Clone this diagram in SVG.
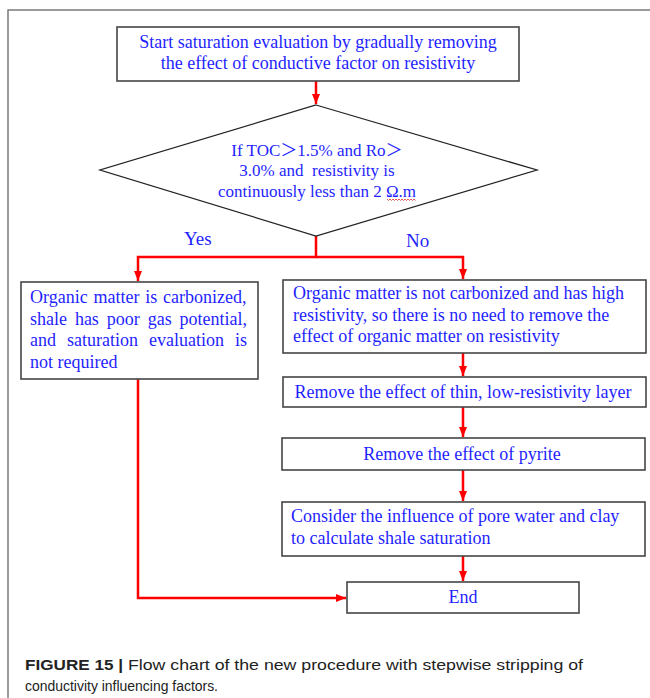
<svg xmlns="http://www.w3.org/2000/svg" width="650" height="698" viewBox="0 0 650 698">
<style>
.frame{fill:none;stroke:#7a7a7a;stroke-width:1.5}
.box{fill:#fff;stroke:#454545;stroke-width:1.6}
.t{font-family:"Liberation Serif","Times New Roman",serif;font-size:18px;fill:#1f1fff}
.td{font-family:"Liberation Serif","Noto Sans CJK SC",serif;font-size:17px;fill:#1f1fff}
.c{text-anchor:middle}
.lbl{font-family:"Liberation Serif","Times New Roman",serif;font-size:19px;fill:#1f1fff}
.conn{fill:none;stroke:#ff0000;stroke-width:2.5}
.cap{font-family:"Liberation Sans",Arial,sans-serif;font-size:14px;fill:#222}
</style>
<defs>
<marker id="ah" markerUnits="userSpaceOnUse" markerWidth="10" markerHeight="10" viewBox="0 0 10 10" refX="10" refY="5" orient="auto">
<path d="M0,1 L10,5 L0,9 Z" fill="#ff0000"/>
</marker>
</defs>
<rect width="650" height="698" fill="#fff"/>
<path class="frame" d="M8,698 L8,10 L650,10"/>

<g id="connectors">
<path class="conn" d="M316,81 L316,104" marker-end="url(#ah)"/>
<path class="conn" d="M316,236 L316,257 L138,257 L138,281" marker-end="url(#ah)"/>
<path class="conn" d="M316,257 L463,257 L463,279" marker-end="url(#ah)"/>
<path class="conn" d="M463,353 L463,376" marker-end="url(#ah)"/>
<path class="conn" d="M463,407 L463,437" marker-end="url(#ah)"/>
<path class="conn" d="M463,470 L463,501" marker-end="url(#ah)"/>
<path class="conn" d="M463,556 L463,581" marker-end="url(#ah)"/>
<path class="conn" d="M138,379 L138,598 L346,598" marker-end="url(#ah)"/>
</g>

<g id="start">
<rect class="box" x="117" y="27" width="402" height="54"/>
<text class="t c" x="318" y="48">Start saturation evaluation by gradually removing</text>
<text class="t c" x="318" y="69">the effect of conductive factor on resistivity</text>
</g>

<g id="decision">
<path d="M316,105 L537,170 L316,236 L100,170 Z" fill="#fff" stroke="#222" stroke-width="1.3"/>
<text class="td c" x="317" y="156">If TOC＞1.5% and Ro＞</text>
<text class="td c" x="317" y="176" xml:space="preserve">3.0% and  resistivity is</text>
<text class="td c" x="317" y="197">continuously less than 2 Ω.m</text>
<path d="M387,199 l1.5,1.5 l1.5,-1.5 l1.5,1.5 l1.5,-1.5 l1.5,1.5 l1.5,-1.5 l1.5,1.5 l1.5,-1.5 l1.5,1.5 l1.5,-1.5 l1.5,1.5 l1.5,-1.5 l1.5,1.5 l1.5,-1.5 l1.5,1.5 l1.5,-1.5 l1.5,1.5 l1.5,-1.5 l1.5,1.5" fill="none" stroke="#e03030" stroke-width="0.8"/>
</g>

<g id="labels">
<text class="lbl" x="184" y="245">Yes</text>
<text class="lbl" x="406" y="247">No</text>
</g>

<g id="carbonized">
<rect class="box" x="21" y="282" width="237" height="97"/>
<text class="t" x="30" y="303" word-spacing="1.3">Organic matter is carbonized,</text>
<text class="t" x="30" y="325" word-spacing="3.4">shale has poor gas potential,</text>
<text class="t" x="30" y="346" word-spacing="6.5">and saturation evaluation is</text>
<text class="t" x="30" y="368">not required</text>
</g>

<g id="not-carbonized">
<rect class="box" x="283" y="280" width="363" height="73"/>
<text class="t" x="293" y="299">Organic matter is not carbonized and has high</text>
<text class="t" x="293" y="321">resistivity, so there is no need to remove the</text>
<text class="t" x="293" y="342">effect of organic matter on resistivity</text>
</g>

<g id="thin-layer">
<rect class="box" x="283" y="377" width="363" height="30"/>
<text class="t c" x="463" y="398">Remove the effect of thin, low-resistivity layer</text>
</g>

<g id="pyrite">
<rect class="box" x="282" y="438" width="363" height="32"/>
<text class="t c" x="462" y="460">Remove the effect of pyrite</text>
</g>

<g id="saturation">
<rect class="box" x="282" y="502" width="363" height="54"/>
<text class="t" x="291" y="522">Consider the influence of pore water and clay</text>
<text class="t" x="291" y="544">to calculate shale saturation</text>
</g>

<g id="end">
<rect class="box" x="347" y="582" width="232" height="31"/>
<text class="t c" x="463" y="603">End</text>
</g>

<g id="caption">
<text class="cap" x="25" y="670"><tspan font-weight="bold" textLength="98" lengthAdjust="spacingAndGlyphs">FIGURE 15 |</tspan><tspan x="128" textLength="455" lengthAdjust="spacingAndGlyphs">Flow chart of the new procedure with stepwise stripping of</tspan></text>
<text class="cap" x="25" y="691" textLength="193" lengthAdjust="spacingAndGlyphs">conductivity influencing factors.</text>
</g>
</svg>
